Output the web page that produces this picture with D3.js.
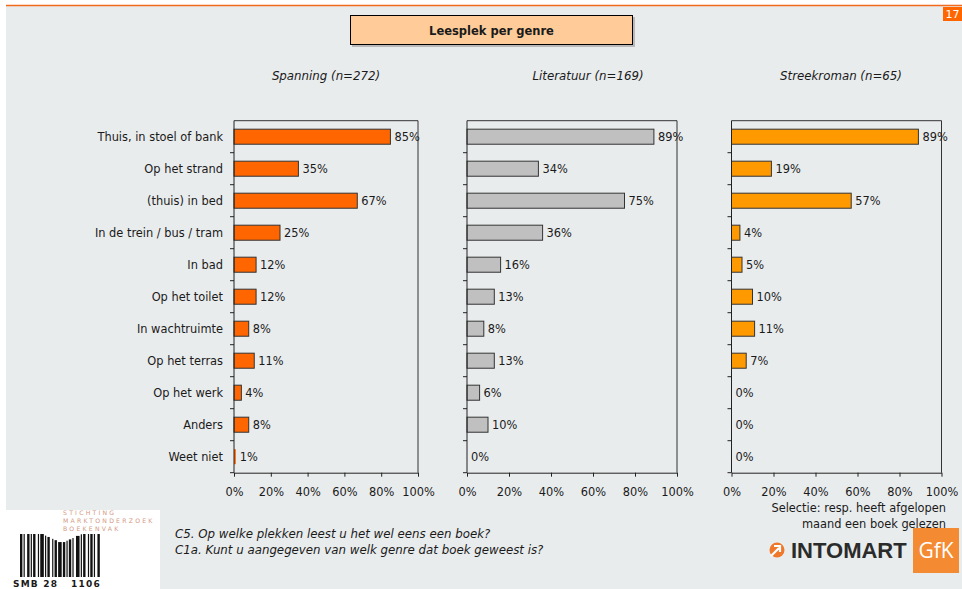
<!DOCTYPE html>
<html>
<head>
<meta charset="utf-8">
<script src="https://cdn.jsdelivr.net/npm/d3@7/dist/d3.min.js"></script>
<style>
  html, body { margin: 0; padding: 0; background: #fff; }
  svg { display: block; }
  text { font-family: "DejaVu Sans", Verdana, sans-serif; fill: #1a1a1a; }
</style>
</head>
<body>
<svg id="chart" width="962" height="589"></svg>
<script>
// Reading places (answer categories)
const categories = [
  "Thuis, in stoel of bank", "Op het strand", "(thuis) in bed",
  "In de trein / bus / tram", "In bad", "Op het toilet",
  "In wachtruimte", "Op het terras", "Op het werk", "Anders", "Weet niet"
];
// Percentages per genre
const spanning    = [85, 35, 67, 25, 12, 12, 8, 11, 4, 8, 1];
const literatuur  = [89, 34, 75, 36, 16, 13, 8, 13, 6, 10, 0];
const streekroman = [89, 19, 57, 4, 5, 10, 11, 7, 0, 0, 0];
const genreTitles = ["Spanning (n=272)", "Literatuur (n=169)", "Streekroman (n=65)"];
const xTicks = [0, 20, 40, 60, 80, 100];

const title = "Leesplek per genre";
const questionLines = [
  "C5. Op welke plekken leest u het wel eens een boek?",
  "C1a. Kunt u aangegeven van welk genre dat boek geweest is?"
];
const selectionLines = ["Selectie: resp. heeft afgelopen", "maand een boek gelezen"];

const svg = d3.select("#chart");
const FS = 11.4;

// page background and header strip
svg.append("rect").attr("x", 6).attr("y", 5).attr("width", 956).attr("height", 584).attr("fill", "#e9eced");
svg.append("line").attr("x1", 6).attr("x2", 962).attr("y1", 5.5).attr("y2", 5.5)
  .attr("stroke", "#f26a1b").attr("stroke-width", 1.5);
svg.append("rect").attr("x", 943).attr("y", 7).attr("width", 19).attr("height", 14).attr("fill", "#ff6600");
svg.append("text").attr("x", 952.5).attr("y", 18).attr("text-anchor", "middle")
  .style("fill", "#fff").style("font-size", "11px").text("17");

// title box
svg.append("rect").attr("x", 352).attr("y", 17).attr("width", 283).attr("height", 30).attr("fill", "#b9b9b9");
svg.append("rect").attr("x", 350.5).attr("y", 15.5).attr("width", 282).attr("height", 29)
  .attr("fill", "#ffcc99").attr("stroke", "#000").attr("stroke-width", 1);
svg.append("text").attr("x", 491.5).attr("y", 34.5).attr("text-anchor", "middle")
  .style("font-size", "11.5px").style("font-weight", "bold").text(title);

// panels
const panels = [
  { values: spanning,    x0: 234,   x1: 418,   titleX: 326, color: "#ff6600", title: genreTitles[0] },
  { values: literatuur,  x0: 467,   x1: 677,   titleX: 588, color: "#c0c0c0", title: genreTitles[1] },
  { values: streekroman, x0: 731.5, x1: 941.5, titleX: 841, color: "#ff9900", title: genreTitles[2] }
];
const yTop = 120.7, yBot = 472.7;

const y = d3.scaleBand().domain(categories).range([yTop, yBot])
  .paddingInner(0.53).paddingOuter(0.265);

panels.forEach((p, pi) => {
  const x = d3.scaleLinear().domain([0, 100]).range([p.x0, p.x1]);
  const g = svg.append("g");

  // genre title
  g.append("text").attr("x", p.titleX).attr("y", 80)
    .attr("text-anchor", "middle").style("font-style", "italic").style("font-size", "11.8px")
    .text(p.title);

  // plot frame (top and right edges)
  g.append("path")
    .attr("d", `M${x(0)},${yTop}H${x(100)}V${yBot}`)
    .attr("fill", "none").attr("stroke", "#333").attr("stroke-width", 1);

  // bars
  g.selectAll("rect.bar").data(p.values).join("rect")
    .attr("class", "bar")
    .attr("x", x(0))
    .attr("y", (d, i) => y(categories[i]))
    .attr("width", d => x(d) - x(0))
    .attr("height", y.bandwidth())
    .attr("fill", p.color)
    .attr("stroke", d => d > 2 ? "#333" : "none")
    .attr("stroke-width", 1);

  // value labels
  g.selectAll("text.val").data(p.values).join("text")
    .attr("class", "val")
    .attr("x", d => x(d) + 4)
    .attr("y", (d, i) => y(categories[i]) + y.bandwidth() / 2 + 4.2)
    .style("font-size", FS + "px")
    .text(d => d + "%");

  // category axis with boundary ticks
  const yAxis = g.append("g").attr("transform", `translate(${x(0)},0)`);
  yAxis.append("line").attr("x1", 0).attr("x2", 0).attr("y1", yTop).attr("y2", yBot)
    .attr("stroke", "#222");
  yAxis.selectAll("line.tick").data(d3.range(1, categories.length + 1)).join("line")
    .attr("class", "tick")
    .attr("x1", -4).attr("x2", 0)
    .attr("y1", i => yTop + i * y.step()).attr("y2", i => yTop + i * y.step())
    .attr("stroke", "#222");
  if (pi === 0) {
    yAxis.selectAll("text.cat").data(categories).join("text")
      .attr("class", "cat")
      .attr("x", -11)
      .attr("y", d => y(d) + y.bandwidth() / 2 + 4.2)
      .attr("text-anchor", "end")
      .style("font-size", FS + "px")
      .text(d => d);
  }

  // percentage axis
  const xAxis = g.append("g").attr("transform", `translate(0,${yBot})`)
    .call(d3.axisBottom(x).tickValues(xTicks).tickFormat(d => d + "%")
      .tickSize(4).tickSizeOuter(0).tickPadding(11));
  xAxis.select(".domain").attr("stroke", "#222");
  xAxis.selectAll(".tick line").attr("stroke", "#222");
  xAxis.selectAll(".tick text").style("font-size", FS + "px")
    .style("font-family", "DejaVu Sans, Verdana, sans-serif").attr("fill", "#1a1a1a");
});

// selection note
selectionLines.forEach((t, i) => {
  svg.append("text").attr("x", 946).attr("y", 512 + i * 15.5).attr("text-anchor", "end")
    .style("font-size", FS + "px").text(t);
});

// question text
questionLines.forEach((t, i) => {
  svg.append("text").attr("x", 175).attr("y", 538 + i * 15.5)
    .style("font-style", "italic").style("font-size", "11.8px").text(t);
});

// foundation logo block
const logo = svg.append("g");
logo.append("rect").attr("x", 0).attr("y", 510).attr("width", 160).attr("height", 79).attr("fill", "#fff");
["STICHTING", "MARKTONDERZOEK", "BOEKENVAK"].forEach((t, i) => {
  logo.append("text").attr("x", 63).attr("y", 515 + i * 8)
    .style("font-size", "6.2px").style("letter-spacing", "2.2px").style("fill", "#d49a84").text(t);
});
// barcode pattern: widths of alternating bars and gaps
const barcode = [2,1,1,2,2,1,1,1,2,2,1,1,3,1,1,1,2,2,1,1,2,1,3,1,2,1,1,1,2,1,1,2,3,1,1,1,2,2,1,1,2,1,1,2,2,1];
const bcTotal = d3.sum(barcode);
const bcX = d3.scaleLinear().domain([0, bcTotal]).range([20, 101]);
let acc = 0;
barcode.forEach((w, i) => {
  if (i % 2 === 0) {
    const cx = (bcX(acc) + bcX(acc + w)) / 2 - 62;
    const dip = Math.max(0, 9 - Math.abs(cx) * 0.45);
    logo.append("rect").attr("x", bcX(acc)).attr("y", 534 + dip).attr("width", bcX(w) - bcX(0))
      .attr("height", 43 - dip).attr("fill", "#111");
  }
  acc += w;
});
logo.append("text").attr("x", 13).attr("y", 587).style("font-size", "9px")
  .style("font-weight", "bold").style("letter-spacing", "1.2px").text("SMB 28");
logo.append("text").attr("x", 71).attr("y", 587).style("font-size", "9px")
  .style("font-weight", "bold").style("letter-spacing", "1.2px").text("1106");

// research agency logo
const brand = svg.append("g");
brand.append("circle").attr("cx", 777).attr("cy", 550).attr("r", 7.5).attr("fill", "#f0782a");
brand.append("path").attr("d", "M771,556 L779,548 M774,546 L780,546 L780,552")
  .attr("stroke", "#fff").attr("stroke-width", 2.2).attr("fill", "none");
brand.append("text").attr("x", 791).attr("y", 558).style("font-family", "Liberation Sans, Arial, sans-serif")
  .style("font-size", "22px").style("font-weight", "bold").style("fill", "#2b2b2b").text("INTOMART");
brand.append("rect").attr("x", 913).attr("y", 528).attr("width", 46).attr("height", 45).attr("fill", "#f48a32");
brand.append("text").attr("x", 936).attr("y", 558).attr("text-anchor", "middle")
  .style("font-family", "Open Sans, sans-serif").style("font-size", "21px").style("fill", "#fff").text("GfK");
</script>
</body>
</html>
